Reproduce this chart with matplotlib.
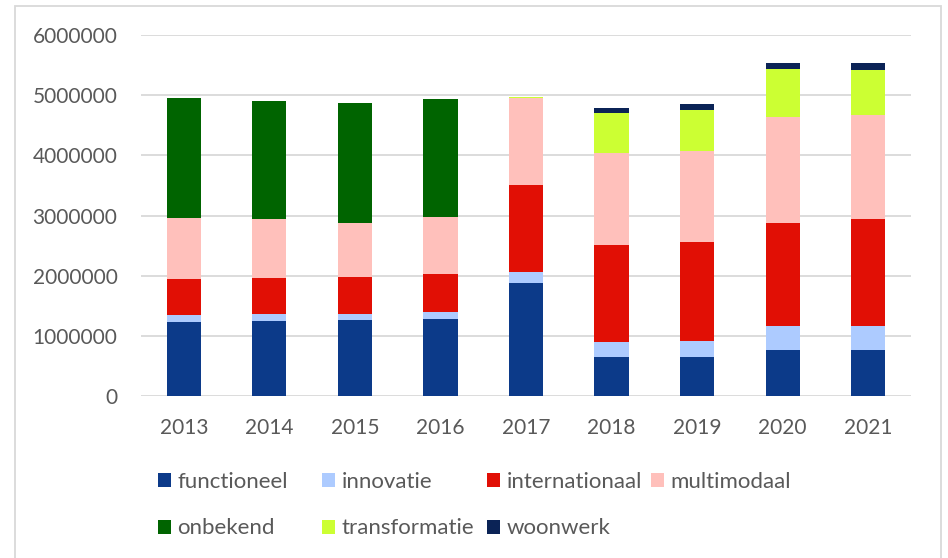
import matplotlib
matplotlib.use("Agg")
import matplotlib.pyplot as plt
from matplotlib.patches import Rectangle, Patch
import numpy as np

plt.rcParams['font.family'] = ['Lato', 'DejaVu Sans']

years = ["2013", "2014", "2015", "2016", "2017", "2018", "2019", "2020", "2021"]
functioneel    = [1231000, 1247000, 1258000, 1280000, 1873000, 652000, 652000, 762000, 762000]
innovatie      = [116000, 117000, 111000, 122000, 182000, 249000, 265000, 404000, 398000]
internationaal = [604000, 604000, 610000, 632000, 1448000, 1602000, 1641000, 1707000, 1779000]
multimodaal    = [1009000, 970000, 903000, 943000, 1453000, 1541000, 1519000, 1768000, 1730000]
onbekend       = [1985000, 1962000, 1985000, 1956000, 0, 0, 0, 0, 0]
transformatie  = [0, 0, 0, 0, 11000, 652000, 669000, 795000, 756000]
woonwerk       = [0, 0, 0, 0, 0, 94000, 105000, 105000, 111000]

series = [
    ("functioneel", functioneel, "#0C3A89"),
    ("innovatie", innovatie, "#ADCBFF"),
    ("internationaal", internationaal, "#E10F05"),
    ("multimodaal", multimodaal, "#FFC0BB"),
    ("onbekend", onbekend, "#006400"),
    ("transformatie", transformatie, "#CCFF33"),
    ("woonwerk", woonwerk, "#0B2356"),
]

W, H = 948, 558
fig = plt.figure(figsize=(W / 100, H / 100), dpi=100)
ax = fig.add_axes([141 / W, 1 - 396 / H, (911 - 141) / W, (396 - 35) / H])

x = np.arange(len(years))
bottom = np.zeros(len(years))
for name, vals, col in series:
    v = np.array(vals, dtype=float)
    ax.bar(x, v, width=0.4, bottom=bottom, color=col, label=name, zorder=3, linewidth=0)
    bottom += v

ax.set_xlim(-0.5, len(years) - 0.5)
ax.set_ylim(0, 6000000)
ax.set_yticks(np.arange(0, 6000001, 1000000))
ax.set_yticklabels([str(int(t)) for t in np.arange(0, 6000001, 1000000)])
ax.set_xticks(x)
ax.set_xticklabels(years)
ax.yaxis.grid(True, color="#D9D9D9", linewidth=1.3, zorder=0)
ax.set_axisbelow(True)
for s in ax.spines.values():
    s.set_visible(False)
ax.tick_params(axis='both', length=0, labelsize=15, colors="#595959")
ax.tick_params(axis='y', pad=17)
ax.tick_params(axis='x', pad=16)

# outer chart frame
fig.patches.append(Rectangle((15 / W, -0.05), (941 - 15) / W, 1.05 - 5.5 / H,
                             transform=fig.transFigure, fill=False,
                             edgecolor="#D9D9D9", linewidth=1.3))

# legend: four columns, placed like the reference
cols = {n: c for n, _, c in series}
columns = [
    (158, ["functioneel", "onbekend"]),
    (322, ["innovatie", "transformatie"]),
    (487, ["internationaal", "woonwerk"]),
    (651, ["multimodaal"]),
]
for xpos, names in columns:
    handles = [Patch(facecolor=cols[n], edgecolor='none', label=n) for n in names]
    leg = fig.legend(handles=handles, loc='upper left',
                     bbox_to_anchor=(xpos / W, 1 - 472 / H),
                     frameon=False, borderpad=0, borderaxespad=0,
                     handlelength=0.59, handleheight=0.59, handletextpad=0.28,
                     labelspacing=1.19, fontsize=16)
    for t in leg.get_texts():
        t.set_color("#595959")

fig.savefig("out.png", dpi=100)
